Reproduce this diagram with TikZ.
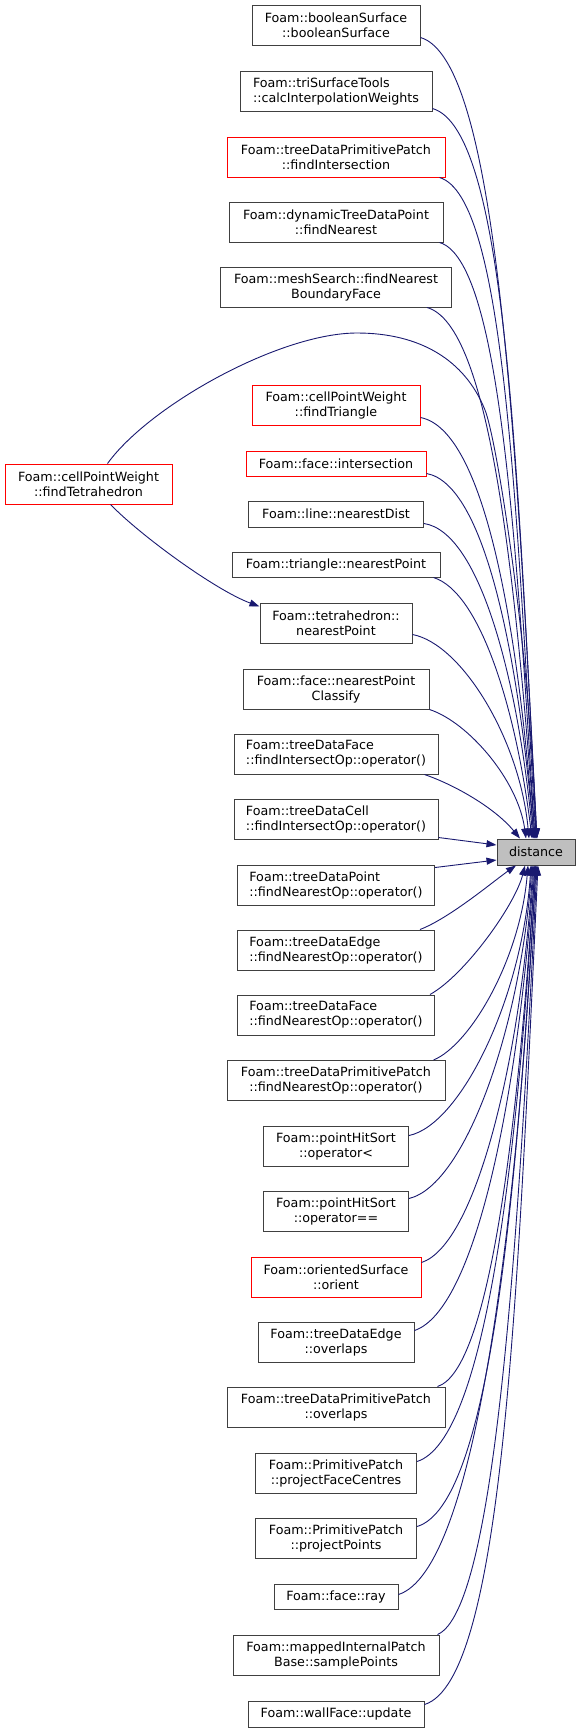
\documentclass[tikz,border=0pt]{standalone}
\usepackage{fontspec}
\setmainfont{DejaVu Sans}
\usetikzlibrary{arrows.meta}
\definecolor{edgecol}{RGB}{25,25,112}
\definecolor{bordergray}{RGB}{64,64,64}
\definecolor{redb}{RGB}{255,0,0}
\definecolor{distfill}{RGB}{191,191,191}
\begin{document}
\begin{tikzpicture}[x=1pt,y=-1pt,font=\fontsize{12.7}{15}\selectfont,
  box/.style={draw=bordergray, line width=1pt, fill=white, inner sep=0pt, minimum height=40pt, align=center},
  redbox/.style={box, draw=redb},
  lbox/.style={box, align=left},
  edge/.style={draw=edgecol, line width=0.9pt, -{Triangle[length=10pt,width=7pt]}}]
\useasboundingbox (0,0) rectangle (580,1733);
\node[box, minimum width=168pt] (n1) at (336,25) {Foam::booleanSurface\\::booleanSurface};
\node[lbox, minimum width=192pt] (n2) at (336,91) {Foam::triSurfaceTools\\::calcInterpolationWeights};
\node[redbox, minimum width=218pt] (n3) at (336,157) {Foam::treeDataPrimitivePatch\\::findIntersection};
\node[box, minimum width=214pt] (n4) at (336,222) {Foam::dynamicTreeDataPoint\\::findNearest};
\node[box, minimum width=231pt] (n5) at (336,287) {Foam::meshSearch::findNearest\\BoundaryFace};
\node[redbox, minimum width=168pt] (n6) at (336,405) {Foam::cellPointWeight\\::findTriangle};
\node[redbox, minimum width=180pt, minimum height=25pt] (n7) at (336,463.5) {Foam::face::intersection};
\node[box, minimum width=175pt, minimum height=26pt] (n8) at (336,514) {Foam::line::nearestDist};
\node[box, minimum width=208pt, minimum height=25pt] (n9) at (336,564.5) {Foam::triangle::nearestPoint};
\node[box, minimum width=152pt] (n10) at (336,623) {Foam::tetrahedron::\\nearestPoint};
\node[box, minimum width=186pt] (n11) at (336,689) {Foam::face::nearestPoint\\Classify};
\node[lbox, minimum width=204pt] (n12) at (336,754) {Foam::treeDataFace\\::findIntersectOp::operator()};
\node[lbox, minimum width=204pt] (n13) at (336,819) {Foam::treeDataCell\\::findIntersectOp::operator()};
\node[lbox, minimum width=197pt] (n14) at (336,885) {Foam::treeDataPoint\\::findNearestOp::operator()};
\node[lbox, minimum width=197pt] (n15) at (336,950) {Foam::treeDataEdge\\::findNearestOp::operator()};
\node[lbox, minimum width=197pt] (n16) at (336,1015) {Foam::treeDataFace\\::findNearestOp::operator()};
\node[box, minimum width=218pt] (n17) at (336,1080.5) {Foam::treeDataPrimitivePatch\\::findNearestOp::operator()};
\node[box, minimum width=145pt] (n18) at (336,1146) {Foam::pointHitSort\\::operator<};
\node[box, minimum width=145pt] (n19) at (336,1211) {Foam::pointHitSort\\::operator==};
\node[redbox, minimum width=170pt] (n20) at (336,1277) {Foam::orientedSurface\\::orient};
\node[box, minimum width=156pt] (n21) at (336,1342) {Foam::treeDataEdge\\::overlaps};
\node[box, minimum width=218pt] (n22) at (336,1407) {Foam::treeDataPrimitivePatch\\::overlaps};
\node[box, minimum width=161pt] (n23) at (336,1473) {Foam::PrimitivePatch\\::projectFaceCentres};
\node[box, minimum width=161pt] (n24) at (336,1538) {Foam::PrimitivePatch\\::projectPoints};
\node[box, minimum width=124pt, minimum height=25pt] (n25) at (336,1596.5) {Foam::face::ray};
\node[box, minimum width=206pt] (n26) at (336,1655) {Foam::mappedInternalPatch\\Base::samplePoints};
\node[box, minimum width=176pt, minimum height=26pt] (n27) at (336,1714) {Foam::wallFace::update};
\node[redbox, minimum width=167pt] (T) at (88.5,484) {Foam::cellPointWeight\\::findTetrahedron};
\node[box, fill=distfill, minimum width=78pt, minimum height=26pt] (D) at (536,852) {distance};

% edges from above
\draw[edge] ([yshift=8pt]n1.south east) .. controls (498,60) and (516,439) .. ([xshift=1pt]D.north);
\draw[edge] ([yshift=3pt]n2.south east) .. controls (507,130) and (517,474) .. ([xshift=1pt]D.north);
\draw[edge] ([xshift=-6pt]n3.south east) .. controls (505,197) and (516,508) .. (D.north);
\draw[edge] ([xshift=-4pt]n4.south east) .. controls (500,260) and (516,540) .. ([xshift=-1pt]D.north);
\draw[edge] ([xshift=-25pt]n5.south east) .. controls (490,325) and (515,573) .. ([xshift=-1pt]D.north);
\draw[edge] ([yshift=8pt]n6.south east) .. controls (485,430) and (518,628) .. ([xshift=-2pt]D.north);
\draw[edge] ([yshift=3pt]n7.south east) .. controls (485,484) and (518,656) .. ([xshift=-2pt]D.north);
\draw[edge] ([yshift=4pt]n8.south east) .. controls (480,532) and (518,680) .. ([xshift=-3pt]D.north);
\draw[edge] ([xshift=-7pt]n9.south east) .. controls (480,592) and (516,708) .. ([xshift=-4pt]D.north);
\draw[edge] ([yshift=9pt]n10.south east) .. controls (462,644) and (520,740) .. ([xshift=-7pt]D.north);
\draw[edge] (n11.south east) .. controls (468,722) and (518,780) .. ([xshift=-10pt]D.north);
\draw[edge] ([xshift=-14pt]n12.south east) .. controls (455,785) and (495,808) .. ([xshift=-16pt]D.north);
\draw[edge] ([yshift=2pt]n13.south east) -- ([yshift=7pt]D.west);
\draw[edge] ([yshift=-3pt]n14.north east) -- ([yshift=-8pt]D.west);
% edges from below
\draw[edge] ([xshift=-15pt]n15.north east) .. controls (450,918) and (495,880) .. ([xshift=-20pt]D.south);
\draw[edge] ([xshift=-5pt]n16.north east) .. controls (465,975) and (515,905) .. ([xshift=-11pt]D.south);
\draw[edge] ([xshift=-12pt]n17.north east) .. controls (470,1045) and (520,960) .. ([xshift=-8pt]D.south);
\draw[edge] ([yshift=-10pt]n18.north east) .. controls (460,1125) and (522,1000) .. ([xshift=-5pt]D.south);
\draw[edge] ([yshift=-8pt]n19.north east) .. controls (465,1185) and (520,1030) .. ([xshift=-4pt]D.south);
\draw[edge] ([yshift=-6pt]n20.north east) .. controls (475,1245) and (520,1065) .. ([xshift=-3pt]D.south);
\draw[edge] ([yshift=-9pt]n21.north east) .. controls (475,1310) and (518,1100) .. ([xshift=-2pt]D.south);
\draw[edge] ([xshift=-8pt]n22.north east) .. controls (490,1370) and (518,1125) .. ([xshift=-1pt]D.south);
\draw[edge] ([yshift=-9pt]n23.north east) .. controls (485,1440) and (517,1165) .. ([xshift=-1pt]D.south);
\draw[edge] ([yshift=-9pt]n24.north east) .. controls (490,1505) and (517,1195) .. (D.south);
\draw[edge] ([yshift=-11pt]n25.north east) .. controls (475,1570) and (517,1230) .. (D.south);
\draw[edge] ([xshift=-2pt]n26.north east) .. controls (495,1610) and (518,1250) .. ([xshift=1pt]D.south);
\draw[edge] ([yshift=-4pt]n27.north east) .. controls (504,1680) and (518,1285) .. ([xshift=2pt]D.south);
% findTetrahedron
\draw[edge] ([xshift=19pt]T.north) .. controls (150,405) and (280,333) .. (357,333)
  .. controls (420,333) and (465,360) .. (485,410)
  .. controls (497,440) and (530,650) .. (D.north);
\draw[edge] ([xshift=22pt]T.south) .. controls (140,535) and (215,590) .. ([yshift=-4pt]n10.north west);
\end{tikzpicture}
\end{document}
